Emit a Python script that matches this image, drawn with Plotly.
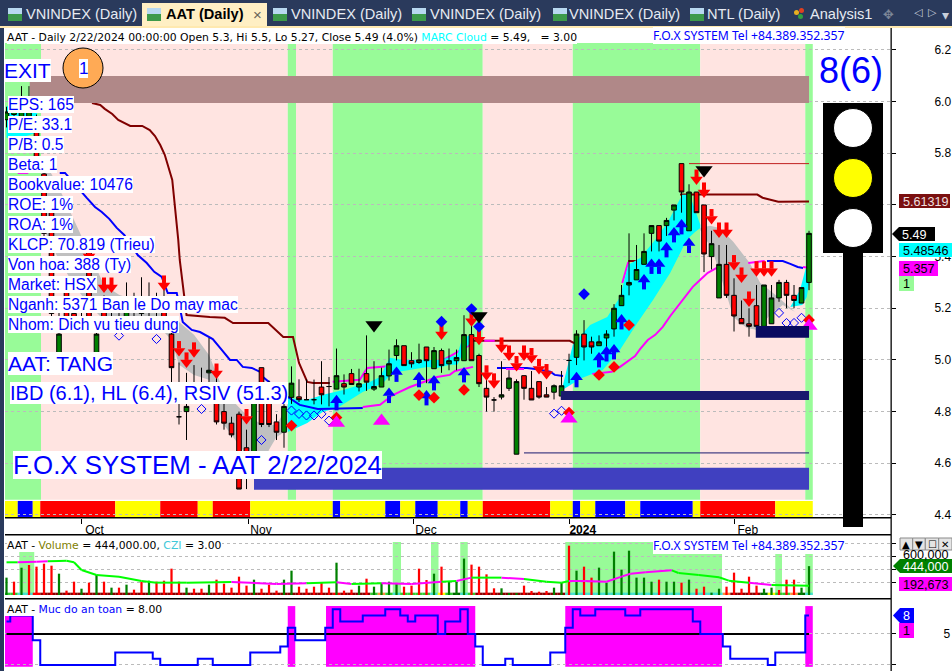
import plotly.graph_objects as go

W, H = 952, 671
PX = 0.003871  # price per pixel on the main axis, used only for glyph offsets

bars = list(range(108))
opens = [5.93,5.95,5.92,5.94,5.90,5.72,5.58,5.02,5.28,5.18,5.16,5.42,5.00,5.20,5.14,5.16,5.14,5.20,5.18,5.24,5.20,5.22,5.10,4.78,4.80,4.87,4.87,4.95,4.86,4.80,4.755,4.79,4.66,4.62,4.97,4.85,4.76,4.72,4.855,
         4.857,4.846,4.846,4.895,4.897,4.887,4.908,4.947,4.895,4.947,4.887,4.895,4.938,5.017,5.055,4.997,4.99,5.05,4.966,5.036,4.985,4.997,4.997,5.098,5.017,4.89,4.845,4.856,4.89,4.635,4.939,4.89,4.916,4.865,4.875,4.86,4.998,5.01,5.10,5.07,5.055,5.085,5.12,5.21,5.29,5.31,5.37,5.49,5.52,5.52,5.58,5.76,5.50,5.65,5.60,5.40,5.24,5.37,5.25,5.16,5.14,5.21,5.13,5.14,5.24,5.30,5.25,5.22,5.30]
highs = [5.98,6.00,6.06,6.06,5.95,5.76,5.60,5.20,5.30,5.24,5.22,5.44,5.16,5.25,5.20,5.22,5.30,5.26,5.32,5.30,5.26,5.28,5.16,4.99,4.95,4.98,4.97,5.085,4.95,4.83,4.78,4.80,4.73,4.87,4.97,4.92,4.79,4.88,4.975,
         4.925,4.925,4.924,4.995,4.934,5.044,4.944,4.965,4.966,5.095,4.995,4.97,5.04,5.08,5.055,5.03,5.063,5.05,5.05,5.044,5.044,5.04,5.173,5.18,5.024,4.935,4.856,4.995,4.96,4.925,4.94,4.957,4.916,4.895,4.905,4.957,5.024,5.115,5.154,5.09,5.095,5.115,5.216,5.29,5.49,5.445,5.49,5.52,5.52,5.55,5.60,5.76,5.68,5.65,5.60,5.50,5.445,5.445,5.316,5.23,5.20,5.29,5.29,5.29,5.31,5.31,5.29,5.28,5.50]
lows = [5.90,5.92,5.88,5.90,5.74,5.47,5.16,5.00,5.14,5.12,5.11,5.14,4.98,5.12,5.11,5.11,5.12,5.15,5.14,5.16,5.14,5.14,4.90,4.75,4.69,4.83,4.83,4.85,4.75,4.73,4.70,4.50,4.50,4.60,4.74,4.74,4.69,4.66,4.83,
        4.837,4.846,4.828,4.828,4.82,4.887,4.866,4.905,4.878,4.88,4.88,4.895,4.92,4.998,4.978,4.97,4.985,4.91,4.966,4.95,4.96,4.96,4.997,4.997,4.895,4.80,4.80,4.847,4.88,4.635,4.846,4.845,4.85,4.856,4.847,4.86,4.91,4.98,4.998,5.024,5.055,5.05,5.09,5.21,5.25,5.31,5.37,5.42,5.42,5.48,5.54,5.57,5.50,5.57,5.34,5.35,5.24,5.24,5.11,5.14,5.09,5.115,5.13,5.14,5.225,5.20,5.20,5.22,5.27]
closes = [5.96,5.98,5.97,5.98,5.75,5.49,5.18,5.10,5.16,5.14,5.13,5.16,5.10,5.14,5.16,5.12,5.20,5.22,5.24,5.20,5.22,5.15,4.97,4.78,4.82,4.85,4.85,4.96,4.76,4.755,4.71,4.50,4.55,4.85,4.75,4.75,4.72,4.82,4.91,
          4.846,4.846,4.846,4.865,4.897,4.939,4.895,4.905,4.908,4.914,4.897,4.939,4.985,5.055,4.978,4.985,5.00,4.997,5.036,4.978,4.997,5.009,5.098,4.997,4.908,4.856,4.845,4.865,4.93,4.916,4.89,4.845,4.856,4.856,4.90,4.90,4.998,5.10,5.05,5.05,5.07,5.10,5.20,5.25,5.30,5.35,5.42,5.52,5.46,5.54,5.60,5.65,5.65,5.57,5.41,5.45,5.37,5.25,5.17,5.14,5.13,5.13,5.29,5.24,5.30,5.25,5.23,5.28,5.49]

regime_edges = [-0.2,4.6,37.5,38.6,43.5,63.5,75.5,92.5,106.5,107.5]
regime_kinds = ["G","P","G","P","G","P","G","P","G"]
regime_low, regime_high = 4.459, 6.227

strip_runs = [("Y",2),("B",2),("Y",1),("R",10),("Y",6),("R",5),("Y",2),("R",5),("Y",11),("B",1),("Y",6),("B",2),("Y",2),("B",3),("Y",3),("B",1),("Y",2),("R",9),("Y",3),("B",1),("Y",2),("B",4),("Y",2),("B",7),("Y",1),("R",10),("Y",5)]
strip_low, strip_high = 4.392, 4.454

zones = [(3.1,107,5.995,6.099,"#B08888"),(33,107,4.497,4.583,"#4040C0"),(73.9,107,4.845,4.880,"#1A1A6E"),(99.9,107,5.086,5.131,"#0A0A60")]
thin_levels = [(91,107,5.76,"#C02020"),(69,107,4.64,"#1A1A6E")]

cyan_d_x = [0,1,2,3,4,4.2]
cyan_d_hi = [5.98,6.0,6.0,6.0,5.98,5.90]
cyan_d_lo = [5.86,5.86,5.86,5.87,5.88,5.90]
gray_a_x = [5,7,9,11,13,15,17,19,21,22,23,25,27,29,31,32,33,34,35,36,37,37.5]
gray_a_hi = [5.774,5.666,5.542,5.418,5.290,5.252,5.232,5.201,5.174,5.163,5.147,5.097,5.019,4.876,4.814,4.787,4.768,4.752,4.748,4.748,4.799,4.826]
gray_a_lo = [5.503,5.387,5.290,5.213,5.155,5.135,5.124,5.116,5.108,5.077,4.981,4.942,4.923,4.748,4.671,4.632,4.574,4.574,4.652,4.702,4.721,4.729]
cyan_a_hx = [37.5,40.1,42.2,44.9,48.5,49.8,51.1,52.9,56.1,57.8,60.1,60.7,61.8]
cyan_a_hi = [4.853,4.845,4.865,4.884,4.915,4.934,5.008,5.0,5.0,5.0,5.019,5.077,5.097]
cyan_a_lx = [37.5,40.1,42.2,44.1,47.5,50.2,51.5,56.1,57.4,59.1,60.1,61.1,62.1]
cyan_a_lo = [4.721,4.756,4.799,4.814,4.876,4.911,4.950,4.973,4.969,4.981,4.981,5.039,5.077]
cyan_b_hx = [74.1,75.5,77.8,80.1,81.8,82.9,84.5,86.5,88.1,90.1,91.1,92.5]
cyan_b_hi = [4.892,5.058,5.135,5.166,5.244,5.368,5.395,5.465,5.530,5.639,5.639,5.523]
cyan_b_lx = [74.1,76.7,79.5,81.8,84.1,86.2,88.5,90.7,91.8,92.5]
cyan_b_lo = [4.884,4.930,4.961,5.039,5.143,5.232,5.337,5.465,5.495,5.511]
gray_b_hx = [92.5,93.8,95.1,96.9,99.1,100.5,102.5,104.5,105.1]
gray_b_hi = [5.511,5.519,5.511,5.457,5.375,5.298,5.252,5.201,5.186]
gray_b_lx = [92.5,94.1,96.1,96.9,98.7,100.1,101.8,103.5,105.1]
gray_b_lo = [5.503,5.426,5.244,5.166,5.124,5.116,5.174,5.213,5.186]
cyan_c_hx = [104.5,105.8,106.5,107]
cyan_c_hi = [5.205,5.271,5.348,5.376]
cyan_c_lx = [104.5,106.1,106.7,107]
cyan_c_lo = [5.205,5.213,5.244,5.298]

upper_segments = [
 ("#800000",[11.4,12.5,13.1,14.1,14.9,16.5,18.1,19.1,19.8,20.5,21.1,21.5,22.1,22.3,22.6,22.9,23.1,23.4,23.7,24,27.1,29.1,30.2,34.9,36.9,38.2,39,40.1,40.9,43.1],
  [5.995,5.987,5.972,5.952,5.929,5.906,5.906,5.890,5.867,5.832,5.794,5.755,5.697,5.639,5.561,5.465,5.387,5.310,5.232,5.174,5.166,5.163,5.143,5.143,5.089,5.089,4.988,4.915,4.911,4.911]),
 ("#FF00FF",[43.5,47.1,48.1,51.1,57.8,61.8],[4.915,4.923,4.969,4.977,4.992,5.058]),
 ("#800000",[62.2,75.1,75.9],[5.074,5.074,5.062]),
 ("#FF00FF",[63.7,65.1],[5.074,5.074]),
 ("#FF00FF",[82.1,82.9],[5.298,5.379]),
 ("#800000",[82.9,84.5],[5.383,5.383]),
 ("#800000",[89.8,98.1,100.1,100.8,102.1,102.9,107],[5.640,5.640,5.640,5.628,5.619,5.612,5.613]),
]
lower_segments = [
 ("#FF00FF",[1.5,2.9],[5.724,5.724]),
 ("#0000FF",[7.1,7.8,10.7,11.8,12.7,13.7,14.7,15.7,17.5,18.7,19.7,20.7,21.5,22.7,23.5,24.7,25.8,27.5,28.7,29.8,30.7,31.5,32.7,33.8,34.2,37.1,39.1,41.5,47.5],
  [5.724,5.724,5.627,5.592,5.573,5.546,5.511,5.484,5.406,5.375,5.341,5.321,5.259,5.259,5.147,5.116,5.108,5.081,5.039,5.0,5.0,4.973,4.969,4.954,4.934,4.864,4.826,4.810,4.814]),
 ("#FF00FF",[47.5,49.8,51.5,53.8,57.4,59.1,59.8,62.2],[4.818,4.826,4.864,4.895,4.934,4.942,4.957,4.973]),
 ("#0000FF",[65.4,69.4,70.5,72.5,73.1,74.2],[4.969,4.969,4.965,4.954,4.942,4.938]),
 ("#FF00FF",[66.6,69],[4.965,4.965]),
 ("#FF00FF",[78.1,80.7,81.8,82.7,83.8,84.5,85.5,86.5,87.5,88.5,89.5,90.6,91.5,92.5,93.5,94.7],
  [4.946,4.954,4.973,4.992,5.015,5.043,5.077,5.097,5.128,5.170,5.209,5.248,5.283,5.310,5.337,5.356]),
 ("#FF00FF",[98.9,99.8,101.1],[5.375,5.379,5.383]),
 ("#0000FF",[101.4,103.5,104.5,105.5,106.2],[5.383,5.383,5.372,5.360,5.356]),
 ("#FF00FF",[106.2,107],[5.360,5.357]),
]

sell_x = [8,11,13,14,21,23,24,25,28,32,58,62,63,64,65,66,67,68,69,70,71,72,92,93,94,95,96,97,98,99,100,101,102]
sell_y = [5.29,5.41,5.29,5.29,5.298,5.044,5.0,5.039,4.957,4.781,5.108,5.159,5.088,4.95,4.919,5.058,5.027,4.986,5.027,5.017,4.975,4.955,5.708,5.658,5.555,5.503,5.503,5.377,5.329,5.236,5.353,5.353,5.353]
buy_x = [44,51,52,55,56,57,61,76,79,80,81,82,85,86,87,88,89,90,91]
buy_y = [4.834,4.862,4.944,4.923,4.853,4.911,4.942,4.923,5.0,5.023,5.031,5.147,5.302,5.362,5.362,5.426,5.484,5.515,5.443]
red_dot_x = [38,44,55,57,61,75,79,81,83,107]
red_dot_y = [4.746,4.777,4.864,4.854,4.884,4.796,4.942,4.973,5.135,5.155]
blue_dot_x = [58,62,63,77]
blue_dot_y = [5.148,5.197,5.129,5.255]
open_x = [15,20,26,34,38,39,40,41,42,43,73,74,103,104,105,106]
open_y = [5.094,5.081,4.81,4.69,4.804,4.791,4.785,4.785,4.791,4.765,4.792,4.803,5.182,5.143,5.143,5.163]
mag_tri_x = [44,50,75,107]
mag_tri_y = [4.756,4.764,4.772,5.131]
blk_tri_x = [49,63,93]
blk_tri_y = [5.135,5.17,5.735]

volume = [267,205,420,462,436,482,451,328,67,205,97,190,308,205,113,113,159,82,205,220,205,220,405,205,113,97,97,159,236,174,113,282,144,236,97,159,67,236,374,128,97,128,190,113,497,67,82,144,251,128,190,205,174,128,144,405,231,328,436,205,205,560,467,436,318,103,103,26,26,144,62,51,62,113,190,759,374,436,267,421,190,667,390,682,267,267,205,236,205,205,190,236,97,128,36,97,128,344,97,282,144,97,113,77,236,236,113,444]
volume = [v * 1000 for v in volume]
vol_colors_up = [True,False,True,False,False,False,False,True,False,False,True,False,True,False,True,False,True,False,False,True,False,False,False,False,True,False,False,True,False,False,False,False,False,True,False,False,False,True,True,False,False,False,False,False,True,False,False,True,False,True,True,True,True,False,False,False,False,True,False,True,True,True,False,False,False,False,True,True,True,False,False,False,False,True,True,False,True,False,False,True,True,True,True,True,True,True,True,False,True,True,False,True,False,False,True,True,False,False,False,False,False,True,True,False,False,False,True,True]
strip_over = {0:"#32CD32",1:"#32CD32",2:"#40E0D0",3:"#40E0D0",4:"#FF0000",44:"#FF0000",49:"#32CD32",50:"#FF8C3A",51:"#32CD32",52:"#40E0D0",53:"#32CD32",54:"#32CD32",55:"#32CD32",56:"#32CD32",57:"#40E0D0",58:"#FFFF00",59:"#32CD32",60:"#006400",61:"#40E0D0",62:"#32CD32",96:"#FF8C3A",101:"#006400",102:"#FFFF00",103:"#32CD32",104:"#32CD32",105:"#FF8C3A",106:"#006400",107:"#40E0D0"}
for _i in range(75, 96):
    strip_over[_i] = "#40E0D0"
vol_blocks = [(1.7,3.7),(51.5,52.6),(56.6,57.6),(60.5,61.5),(74.5,95.4),(102.5,103.4),(106.5,107.5)]
vol_block_top = 815000
vol_ma_x = [0,1.5,4,5.5,7,8,9,10,12,15,18,20,24,30,36,40,44,46,50,54,58,60,62,66,69,72,74,75,77.2,80,82,83.2,85.2,88.7,89.6,92.3,95,96.3,99,102,107]
vol_ma_y = [503,503,513,518,523,528,503,385,308,282,215,190,190,200,169,180,195,169,180,169,205,215,267,267,246,205,190,215,215,205,282,328,349,379,338,308,272,221,190,154,144]
vol_ma_k = ["G","M","M","G","G","G","G","G","G","G","G","G","G","M","M","G","M","G","M","M","G","M","G","M","G","G","G","M","M","M","M","M","M","G","G","G","G","G","M","G","M"]
vol_ma_y = [v * 1000 for v in vol_ma_y]

safety = [7,8,8,8,4,0,0,0,0,0,0,0,0,0,0,2,2,2,2,2,1,0,0,0,0,0,1,1,0,0,0,0,0,2,2,2,2,3,6,4,4,4,4,6,9,7,7,7,8,8,8,9,9,8,7,8,8,8,5,7,7,9,5,3,0,0,0,1,0,0,0,0,0,2,2,6,9,8,8,9,9,9,9,8,8,9,9,9,9,9,9,9,7,5,5,5,3,1,1,1,1,1,0,2,2,2,2,8]
safety_blocks = [(-0.2,3.5,7.9),(37.5,38.5,9.5),(42.6,62.5,9.5),(74.5,95.4,9.5),(106.5,107.5,9.5)]
safety_floor = -0.3
safety_mid = 5

price_ticks = [4.4,4.6,4.8,5.0,5.2,5.4,5.6,5.8,6.0,6.2]
price_text = ["4.4","4.6","4.8","5.0","5.2","5.4","","5.8","6.0","6.2"]
month_vals = [10,32.2,54.2,75.1,97.1]
month_text = ["Oct","Nov","Dec","<b>2024</b>","Feb"]
vol_ticks = [200000,400000,600000,800000]
safety_ticks = [0,5]

info_lines = ["EPS: 165","P/E: 33.1","P/B: 0.5","Beta: 1","Bookvalue: 10476","ROE: 1%","ROA: 1%","KLCP: 70.819 (Trieu)","Von hoa: 388 (Ty)","Market: HSX","Nganh: 5371 Ban le Do may mac","Nhom: Dich vu tieu dung"]

ARIAL = "Liberation Sans"
TAH = "DejaVu Sans"
BLUE = "#0000FF"

fig = go.Figure()
shapes, notes = [], []

def xp(x): return x / W
def yp(y): return 1 - y / H

def rect(x0, y0, x1, y1, fill, line=None, lw=0, kind="rect"):
    shapes.append(dict(type=kind, xref="paper", yref="paper", x0=xp(x0), x1=xp(x1), y0=yp(y0), y1=yp(y1),
                       fillcolor=fill, line=dict(color=line or fill, width=lw), layer="above"))

def note(x, y, text, size=12, color="black", family=ARIAL, bg=None, anchor="left"):
    d = dict(xref="paper", yref="paper", x=xp(x), y=yp(y), text=text, showarrow=False, xanchor=anchor, yanchor="middle",
             font=dict(size=size, color=color, family=family), borderpad=0, borderwidth=0)
    if bg: d["bgcolor"] = bg
    notes.append(d)

# regime backgrounds
for i, k in enumerate(regime_kinds):
    shapes.append(dict(type="rect", xref="x", yref="y", x0=regime_edges[i], x1=regime_edges[i+1], y0=regime_low, y1=regime_high,
                       fillcolor="#98FB98" if k == "G" else "#FFE4E1", line=dict(width=0), layer="below"))
for x0, x1 in vol_blocks:
    shapes.append(dict(type="rect", xref="x2", yref="y2", x0=x0, x1=x1, y0=0, y1=vol_block_top, fillcolor="#98FB98", line=dict(width=0), layer="below"))
for x0, x1, top in safety_blocks:
    shapes.append(dict(type="rect", xref="x3", yref="y3", x0=x0, x1=x1, y0=safety_floor, y1=top, fillcolor="#FF00FF", line=dict(width=0), layer="below"))

# colour strip under the price panel, built from the run lengths
_pos = -0.5
for k, n in strip_runs:
    shapes.append(dict(type="rect", xref="x", yref="y", x0=_pos, x1=_pos + n, y0=strip_low, y1=strip_high,
                       fillcolor={"Y":"#FFFF00","B":"#0000FF","R":"#FF0000"}[k], line=dict(width=0), layer="below"))
    _pos += n

def seg(x, y, color, width=2, shape="linear", ax="", z=-1):
    fig.add_trace(go.Scatter(x=x, y=y, mode="lines", line=dict(color=color, width=width, shape=shape), xaxis="x"+ax, yaxis="y"+ax,
                             hoverinfo="skip", showlegend=False, zorder=z))

def cloud(hx, hy, lx, ly, color):
    fig.add_trace(go.Scatter(x=hx + lx[::-1], y=hy + ly[::-1], mode="lines", fill="toself", fillcolor=color, line=dict(width=0, color=color),
                             hoverinfo="skip", showlegend=False, zorder=-1))

for c, x, y in upper_segments:
    seg(x, y, c)
cloud(cyan_d_x, cyan_d_hi, cyan_d_x, cyan_d_lo, "#00FFFF")
cloud(gray_a_x, gray_a_hi, gray_a_x, gray_a_lo, "#C0C0C0")
cloud(cyan_a_hx, cyan_a_hi, cyan_a_lx, cyan_a_lo, "#00FFFF")
cloud(cyan_b_hx, cyan_b_hi, cyan_b_lx, cyan_b_lo, "#00FFFF")
cloud(gray_b_hx, gray_b_hi, gray_b_lx, gray_b_lo, "#C0C0C0")
cloud(cyan_c_hx, cyan_c_hi, cyan_c_lx, cyan_c_lo, "#00FFFF")
for c, x, y in lower_segments:
    seg(x, y, c)

fig.add_trace(go.Candlestick(x=bars, open=opens, high=highs, low=lows, close=closes,
    increasing=dict(fillcolor="#008000", line=dict(color="black", width=1)),
    decreasing=dict(fillcolor="#FF0000", line=dict(color="black", width=1)),
    whiskerwidth=0, showlegend=False, hoverinfo="skip"))

def markers(x, y, sym, size, color, lw=0):
    fig.add_trace(go.Scatter(x=x, y=y, mode="markers", marker=dict(symbol=sym, size=size, color=color, line=dict(width=lw, color=color)),
                             hoverinfo="skip", showlegend=False))

def arrows(x, y, color, sgn):
    sx, sy = [], []
    for a, b in zip(x, y):
        sx += [a, a, None]
        sy += [b + sgn * 7.5 * PX, b, None]
    fig.add_trace(go.Scatter(x=sx, y=sy, mode="lines", line=dict(color=color, width=4), hoverinfo="skip", showlegend=False))
    hy = [b - sgn * 2.5 * PX for b in y]
    markers(x, hy, "triangle-down" if sgn > 0 else "triangle-up", 11, color)

arrows(sell_x, sell_y, "#FF0000", 1)
arrows(buy_x, buy_y, "#0000FF", -1)
markers(open_x, open_y, "diamond-open", 7, BLUE, 1)
markers(red_dot_x, red_dot_y, "diamond", 9, "#FF0000")
markers(blue_dot_x, blue_dot_y, "diamond", 9, BLUE)
markers(mag_tri_x, mag_tri_y, "triangle-up", 15, "#FF00FF")
markers(blk_tri_x, blk_tri_y, "triangle-down", 15, "black")

# volume panel
strip2 = [strip_over.get(i, "#8B0000") for i in bars]
fig.add_trace(go.Bar(x=bars, y=[36000]*108, width=1, marker=dict(color=strip2, line=dict(width=0)), xaxis="x2", yaxis="y2", hoverinfo="skip", showlegend=False))
fig.add_trace(go.Bar(x=bars, y=volume, width=0.3, marker=dict(color=["#008000" if u else "#FF0000" for u in vol_colors_up], line=dict(width=0)),
                     xaxis="x2", yaxis="y2", hoverinfo="skip", showlegend=False))
for i in range(len(vol_ma_x) - 1):
    seg(vol_ma_x[i:i+2], vol_ma_y[i:i+2], "#00FF00" if vol_ma_k[i] == "G" else "#FF00FF", ax="2", z=0)

# safety panel
fig.add_trace(go.Scatter(x=[bars[0], bars[-1]], y=[safety_mid, safety_mid], mode="lines", line=dict(color="black", width=2), xaxis="x3", yaxis="y3", hoverinfo="skip", showlegend=False))
fig.add_trace(go.Scatter(x=bars, y=safety, mode="lines", line=dict(color=BLUE, width=2, shape="hvh"), xaxis="x3", yaxis="y3", hoverinfo="skip", showlegend=False))

# zones on top of candles
for x0, x1, lo, hi, c in zones:
    shapes.append(dict(type="rect", xref="x", yref="y", x0=x0, x1=x1, y0=lo, y1=hi, fillcolor=c, line=dict(width=0), layer="above"))
for x0, x1, lv, c in thin_levels:
    shapes.append(dict(type="line", xref="x", yref="y", x0=x0, x1=x1, y0=lv, y1=lv, line=dict(color=c, width=1), layer="above"))

# frame
rect(0, 0, 4, H, "#2A3A5C")
rect(0, 0, W, 26, "#2A3A5C")
rect(0, 26, W, 28, "#FFE9B0")
rect(142, 3, 267, 26, "#FFEFC4")
for y in (518, 535, 599):
    rect(5, y - 1, 891, y + 0.5, "black")
rect(890.5, 28, 891.8, H, "black")

# tabs
for x in (8, 147, 273, 412, 553, 690):
    rect(x, 8, x + 14, 14, "#B8D8F0")
    rect(x, 14, x + 14, 21, "#3C9A4A")
for x, t in ((26, "VNINDEX (Daily)"), (291, "VNINDEX (Daily)"), (430, "VNINDEX (Daily)"), (569, "VNINDEX (Daily)"), (707, "NTL (Daily)")):
    note(x, 14.5, t, 14.6, "#E6EAF2")
note(166, 14.5, "<b>AAT (Daily)</b>", 14.6, "black")
note(253, 14, "×", 15, "#6A6458")
rect(794, 10, 799, 15, "#E8B020", kind="circle"); rect(799, 8, 804, 13, "#E04020", kind="circle"); rect(798, 14, 803, 19, "#30A040", kind="circle")
note(810, 14.5, "Analysis1", 14.6, "#E6EAF2")
note(888, 14, "✥", 13, "#7D8798", TAH, anchor="center")
note(918, 13, "◁", 11, "#C8CEDA", TAH, anchor="center")
note(932, 13, "▷", 11, "#C8CEDA", TAH, anchor="center")
note(945, 15, "▾", 14, "#C8CEDA", TAH, anchor="center")

# header texts
note(7, 37, 'AAT - Daily 2/22/2024 00:00:00 Open 5.3, Hi 5.5, Lo 5.27, Close 5.49 (4.0%) <span style="color:#00FFFF">MARC Cloud</span> = 5.49,   = 3.00', 10.8, "black", TAH, bg="white")
note(653, 35.5, "F.O.X SYSTEM Tel +84.389.352.357", 12.2, BLUE, "Noto Sans", bg="white")
note(7, 545, 'AAT - <span style="color:#808000">Volume</span> = 444,000.00, <span style="color:#40C8D8">CZI</span> = 3.00', 10.8, "black", TAH, bg="white")
note(653, 545, "F.O.X SYSTEM Tel +84.389.352.357", 12.2, BLUE, "Noto Sans", bg="white")
note(7, 609, 'AAT - <span style="color:#0000FF">Muc do an toan</span> = 8.00', 10.8, "black", TAH, bg="white")

# left labels
note(4, 70.5, "EXIT", 21, BLUE, bg="white")
rect(63, 48, 103, 88, "#FFAA55", "black", 1, "circle")
note(83, 68, "1", 17, BLUE, bg="white", anchor="center")
for i, t in enumerate(info_lines):
    note(8, 104.5 + 20 * i, t, 15.6, BLUE, bg="white")
note(8, 363.5, "AAT: TANG", 21, BLUE, bg="white")
note(10, 393, "IBD (6.1), HL (6.4), RSIV (51.3)", 20, BLUE, bg="white")
note(13, 465, "F.O.X SYSTEM - AAT 2/22/2024", 25.8, BLUE, bg="white")

# traffic light
note(851, 70, "8(6)", 36, BLUE, anchor="center")
rect(843, 253, 863, 527, "black")
rect(823, 103, 883, 253, "black")
for cy, c in ((128, "white"), (178, "#FFFF00"), (228, "white")):
    rect(853 - 19.5, cy - 19.5, 853 + 19.5, cy + 19.5, c, "black", 1, "circle")

def tag(x0, x1, y0, y1, fill, text, color="black", pointer=False):
    if pointer:
        xm = x0 + 7
        ym = (y0 + y1) / 2
        path = f"M {xp(x0)} {yp(ym)} L {xp(xm)} {yp(y0)} L {xp(x1)} {yp(y0)} L {xp(x1)} {yp(y1)} L {xp(xm)} {yp(y1)} Z"
        shapes.append(dict(type="path", xref="paper", yref="paper", path=path, fillcolor=fill, line=dict(width=0), layer="above"))
        note(xm + 3, ym + 0.5, text, 12.6, color)
    else:
        rect(x0, y0, x1, y1, fill)
        note(x0 + 4, (y0 + y1) / 2 + 0.5, text, 12.6, color)

tag(899, 950, 194, 208, "#7B1010", "5.61319", "#F0E0E0")
tag(892, 935, 227, 241, "black", "5.49", "white", True)
tag(899, 952, 243, 257, "#00FFFF", "5.48546")
tag(899, 938, 261, 276, "#FF00FF", "5.357")
tag(899, 914, 276, 291, "#98FB98", "1")
note(903, 555, "600,000", 12.6, "black")
tag(893, 952, 559, 573, "#008000", "444,000", "white", True)
tag(899, 952, 577, 591, "#FF00FF", "192,673")
tag(893, 914, 608, 623, BLUE, "8", "white", True)
tag(899, 914, 623, 638, "#FF00FF", "1")
for x0, x1, g in ((900, 912.7, "▲"), (912.7, 925.3, "▼"), (925.3, 938.7, "☐"), (938.7, 952, "✕")):
    rect(x0, 538, x1, 550, "#E4E4E4", "#8A8A8A", 1)
    note((x0 + x1) / 2, 544, g, 10, "black", TAH, anchor="center")

GRID = dict(showgrid=True, gridcolor="#BBBBBB", griddash="dot", gridwidth=1, zeroline=False, showline=False, side="right", automargin=False,
            ticks="outside", ticklen=4, tickcolor="black", tickfont=dict(family=ARIAL, size=12, color="black"))
x_range = [-0.2, 117.93]
xbase = dict(domain=[xp(5), xp(891)], range=x_range, showgrid=False, zeroline=False, showline=False, automargin=False)

fig.update_layout(
    width=W, height=H, autosize=False, margin=dict(l=0, r=0, t=0, b=0), paper_bgcolor="white", plot_bgcolor="white",
    barmode="overlay", boxgap=0.12, showlegend=False, shapes=shapes, annotations=notes,
    xaxis=dict(**xbase, rangeslider=dict(visible=False), tickmode="array", tickvals=month_vals, ticktext=month_text, ticks="outside", ticklen=5,
               tickcolor="black", tickfont=dict(family=ARIAL, size=12, color="black"), ticklabelshift=13, ticklabelstandoff=-4, anchor="y"),
    yaxis=dict(**GRID, domain=[yp(518), yp(28)], range=[4.388, 6.285], tickmode="array", tickvals=price_ticks, ticktext=price_text, ticklabelstandoff=36, anchor="x"),
    xaxis2=dict(**xbase, showticklabels=False, ticks="", anchor="y2"),
    yaxis2=dict(**GRID, domain=[yp(599), yp(535)], range=[-61500, 923000], tickmode="array", tickvals=vol_ticks, ticktext=["", "", "", ""], anchor="x2"),
    xaxis3=dict(**xbase, showticklabels=False, ticks="", anchor="y3"),
    yaxis3=dict(**GRID, domain=[0, yp(600)], range=[-0.97, 10.48], tickmode="array", tickvals=safety_ticks, ticktext=["0", "5"], ticklabelstandoff=45, anchor="x3"),
)

fig.write_html("out.html", config={"displayModeBar": False}, post_script="document.body.style.margin='0';document.documentElement.style.overflow='hidden';")
